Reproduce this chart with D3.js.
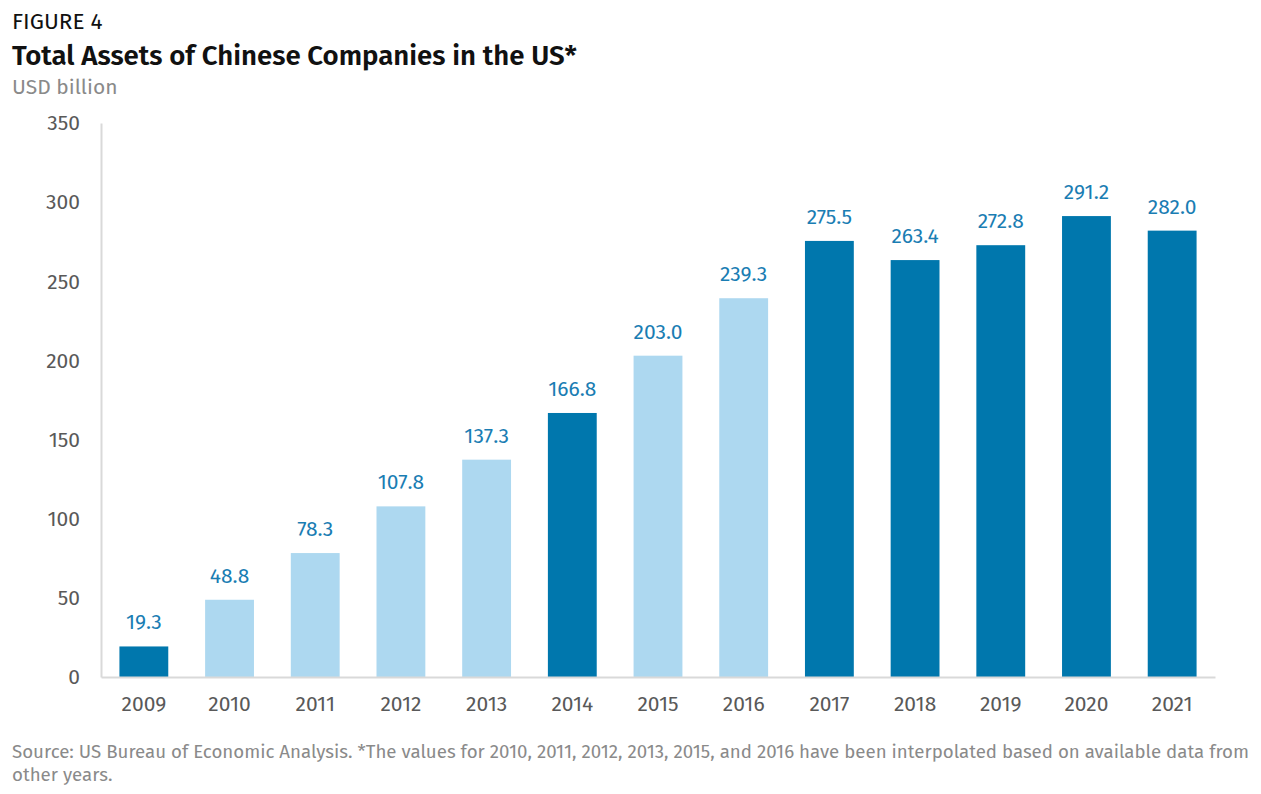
<!DOCTYPE html>
<html><head><meta charset="utf-8">
<script src="https://cdn.jsdelivr.net/npm/d3@7"></script>
<style>body{margin:0;background:#fff;} svg{display:block;}</style>
</head><body>
<script>
const years = ["2009","2010","2011","2012","2013","2014","2015","2016","2017","2018","2019","2020","2021"];
const values = [19.3,48.8,78.3,107.8,137.3,166.8,203.0,239.3,275.5,263.4,272.8,291.2,282.0];
const interpolated = [false,true,true,true,true,false,true,true,false,false,false,false,false];
const yTicks = [0,50,100,150,200,250,300,350];

const W=1261,H=794;
const font = "'Fira Sans','Open Sans','Noto Sans',sans-serif";
const svg = d3.select("body").append("svg").attr("width",W).attr("height",H).style("font-family",font);

const x = d3.scaleBand().domain(years).range([101,1215]).paddingInner(0.43).paddingOuter(0.215);
const y = d3.scaleLinear().domain([0,350]).range([677,123]);

svg.append("text").attr("x",12).attr("y",29).attr("font-size",22.5).attr("fill","#111").text("FIGURE 4");
svg.append("text").attr("x",12).attr("y",65).attr("font-size",27.6).attr("font-weight",600).attr("fill","#111").text("Total Assets of Chinese Companies in the US*");
svg.append("text").attr("x",12).attr("y",94).attr("font-size",21).attr("fill","#8a8a8a").text("USD billion");

// y axis
const ya = svg.append("g").attr("transform","translate(101,0)").call(d3.axisLeft(y).tickValues(yTicks).tickSize(0).tickPadding(21));
ya.select(".domain").attr("stroke","#d9d9d9").attr("stroke-width",2);
ya.selectAll("text").attr("font-size",21).attr("fill","#595959").attr("font-family",font);

// bars
svg.selectAll("rect.bar").data(years).join("rect").attr("class","bar")
  .attr("x",d=>x(d)).attr("width",x.bandwidth())
  .attr("y",(d,i)=>y(values[i])).attr("height",(d,i)=>y(0)-y(values[i]))
  .attr("fill",(d,i)=>interpolated[i]?"#add8f0":"#0077ad");

// x axis
const xa = svg.append("g").attr("transform","translate(0,677)").call(d3.axisBottom(x).tickSize(0).tickPadding(19));
xa.select(".domain").attr("stroke","#d9d9d9").attr("stroke-width",2);
xa.selectAll("text").attr("font-size",21).attr("fill","#595959").attr("font-family",font);

// value labels
svg.selectAll("text.val").data(years).join("text").attr("class","val")
  .attr("x",d=>x(d)+x.bandwidth()/2).attr("y",(d,i)=>y(values[i])-17)
  .attr("text-anchor","middle").attr("font-size",21).attr("fill","#1a7db3")
  .text((d,i)=>values[i].toFixed(1));

svg.append("text").attr("x",12).attr("y",758).attr("font-size",18.7).attr("fill","#8a8a8a")
  .text("Source: US Bureau of Economic Analysis. *The values for 2010, 2011, 2012, 2013, 2015, and 2016 have been interpolated based on available data from");
svg.append("text").attr("x",12).attr("y",781).attr("font-size",18.7).attr("fill","#8a8a8a").text("other years.");
</script>
</body></html>
